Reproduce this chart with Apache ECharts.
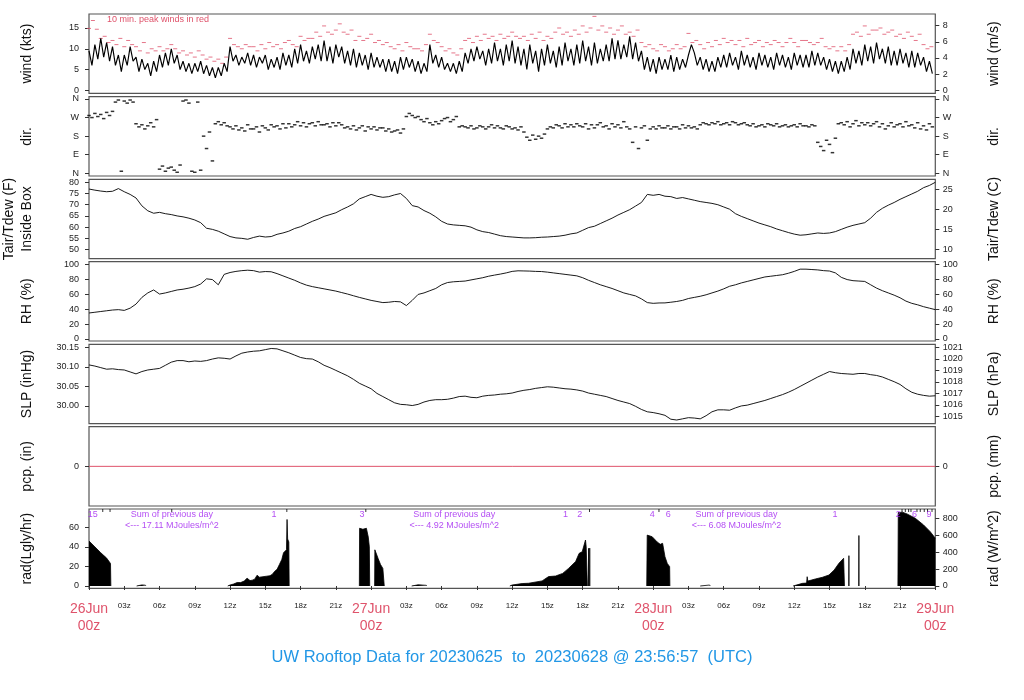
<!DOCTYPE html>
<html><head><meta charset="utf-8">
<script src="https://cdn.jsdelivr.net/npm/echarts@6/dist/echarts.min.js"></script>
<style>html,body{margin:0;padding:0;background:#fff}#c{width:1024px;height:700px}</style>
</head><body><div id="c"></div>
<script>
const FONT = '"Liberation Sans", Arial, Helvetica, sans-serif';

// ---- wind speed (kts), every 15 min from 26Jun 00z ----
const windStep = 0.25;
const windKts = [
 9.5,6.0,11.0,7.5, 12.5,8.0,11.5,7.0, 10.5,6.0,8.5,4.5, 8.5,6.0,10.5,7.0,
 8.0,4.5,7.5,5.0, 6.5,3.5,7.0,4.5, 8.5,5.5,9.0,6.0, 10.0,6.5,8.5,5.0,
 7.0,4.5,6.5,4.0, 6.5,4.5,7.0,4.0, 6.0,3.5,5.5,3.0, 5.5,3.5,6.5,4.5,
 10.5,7.0,8.5,6.0, 8.0,6.5,9.0,6.0, 8.5,5.5,8.0,6.5, 8.5,5.0,7.5,5.5,
 8.0,5.0,9.0,6.0, 8.5,5.5,10.0,6.5, 11.0,7.0,9.5,6.5, 10.5,7.5,11.0,7.0,
 12.0,7.0,10.5,6.5, 11.0,8.0,10.5,6.5, 9.5,6.0,10.0,5.5, 9.0,6.0,8.5,5.0,
 9.0,5.5,8.0,5.5, 7.5,4.5,7.5,4.5, 7.0,4.0,8.0,5.0, 8.0,5.5,7.5,4.5,
 7.0,4.0,6.5,4.5, 11.0,6.5,8.5,5.5, 8.0,5.0,6.5,4.5, 6.5,4.0,7.0,4.5,
 9.0,6.5,10.0,7.0, 10.5,7.5,9.5,6.0, 10.0,6.5,11.5,7.0, 10.0,6.0,11.0,7.0,
 12.0,6.5,10.5,6.0, 10.0,5.0,11.0,6.5, 9.5,4.5,10.0,6.0, 11.0,6.5,9.5,5.5,
 10.5,6.0,11.5,7.0, 10.0,6.0,11.0,6.5, 12.0,7.0,10.5,6.0, 11.5,6.5,10.0,7.0,
 11.0,7.0,12.5,7.5, 12.0,7.5,11.0,8.0, 13.0,7.5,11.5,7.0, 9.5,5.0,8.0,4.5,
 7.5,4.0,8.0,5.0, 7.5,5.0,8.5,4.5, 8.0,5.0,7.5,5.5, 8.5,11.0,9.0,6.0,
 8.0,5.0,7.5,4.5, 7.0,4.5,8.0,5.5, 8.5,5.5,9.0,6.0, 8.0,5.0,9.5,6.0,
 8.5,5.5,8.0,5.0, 9.0,6.0,8.5,5.5, 8.0,5.0,9.0,6.0, 8.5,5.5,8.0,5.0,
 9.0,6.0,8.5,5.5, 8.5,5.5,9.5,6.0, 9.0,6.0,8.0,5.0, 7.5,4.5,7.0,4.0,
 7.0,4.5,8.0,5.0, 10.0,6.5,9.5,6.0, 11.0,7.0,10.5,6.5, 11.5,7.5,10.0,6.5,
 10.5,6.0,9.5,6.0, 10.0,6.5,9.0,5.5, 9.5,5.5,9.0,6.0, 8.0,4.5,7.0,4.0
];

// ---- 10 min peak winds (kts), every 20 min ----
const peakStep = 1 / 3;
const peakKts = [
 14.9,16.8,14.7, 12.5,13.0,11.5, 12.0,11.0,12.5, 10.5,12.0,11.0, 10.5,9.5,11.5, 9.0,10.0,9.5,
 10.5,9.5,10.0, 11.0,10.0,9.0, 9.5,8.5,9.0, 8.0,9.5,8.5, 7.5,8.0,7.0, 7.5,6.5,8.0,
 12.5,11.0,10.5, 10.0,11.0,10.5, 10.5,9.5,11.0, 10.0,11.5,10.5, 11.0,10.0,11.5, 12.0,11.0,10.5,
 13.0,12.0,12.5, 12.5,14.0,13.0, 15.5,14.0,13.5, 14.5,16.0,14.0, 13.5,14.5,12.0, 13.0,12.0,12.5,
 13.5,11.5,12.0, 11.0,11.5,10.5, 10.0,11.0,9.5, 11.5,10.5,10.0, 10.0,9.5,11.0, 13.5,12.0,11.5,
 10.5,9.5,10.0, 9.0,8.5,10.0, 12.0,12.5,11.5, 13.0,12.0,13.5, 12.5,13.0,12.0, 13.5,12.5,13.0,
 14.0,13.0,12.5, 13.0,12.0,13.5, 12.5,14.0,12.0, 13.0,12.5,14.0, 15.0,13.5,14.0, 13.0,14.5,13.5,
 15.5,14.0,15.0, 17.8,14.5,15.5, 14.0,15.0,13.5, 14.5,15.5,13.5, 14.0,13.0,14.5, 11.5,10.5,11.0,
 10.0,9.5,11.0, 10.5,9.5,10.0, 11.0,10.0,10.5, 13.7,11.5,12.0, 11.0,10.0,11.5, 10.5,12.0,11.0,
 12.5,11.5,12.0, 11.0,12.0,10.5, 12.5,11.0,11.5, 12.0,10.5,11.5, 11.0,12.0,11.5, 10.5,11.5,12.5,
 11.5,10.5,12.0, 12.0,11.5,11.0, 11.5,12.5,10.5, 10.0,10.5,9.5, 10.5,9.5,11.0, 13.5,14.0,13.0,
 15.5,13.5,14.5, 14.5,15.0,13.5, 14.0,14.5,13.0, 13.5,12.5,14.0, 13.0,12.0,13.5, 11.0,10.0,10.5
];

// ---- wind direction (deg, 0 = N), every 15 min ----
const dirStep = 0.25;
const dirDeg = [
 280,270,290,275, 285,265,295,280, 300,345,355,10, 350,340,355,345,
 240,225,235,215, 230,245,225,260, 20,35,10,25, 30,15,5,40,
 350,355,340,10, 5,345,15,180, 120,200,60,240, 250,235,245,230,
 225,215,230,210, 220,205,235,215, 215,225,200,230, 220,210,235,225,
 230,215,240,220, 240,225,235,250, 230,245,225,240, 245,230,250,235,
 235,240,225,245, 230,245,235,220, 225,215,230,210, 220,230,205,225,
 215,225,210,220, 220,205,215,200, 205,210,195,215, 275,290,280,270,
 275,260,250,265, 245,235,250,240, 255,265,270,250, 260,275,225,230,
 225,220,230,215, 220,230,225,215, 225,235,220,230, 220,215,230,225,
 215,220,210,225, 200,175,160,185, 165,180,170,190, 215,225,220,235,
 230,220,240,225, 235,225,240,230, 225,240,215,235, 220,235,245,225,
 230,215,240,225, 235,220,250,225, 215,150,225,120, 220,230,160,215,
 225,215,230,220, 220,230,215,225, 225,215,235,220, 230,220,225,215,
 235,245,240,235, 245,240,250,235, 240,245,235,250, 245,235,240,245,
 235,230,240,225, 230,235,225,240, 235,230,240,225, 230,235,225,230,
 235,225,240,230, 230,225,235,230, 150,130,110,160, 140,100,170,240,
 245,235,250,225, 240,255,230,245, 235,245,230,240, 250,225,240,215,
 230,245,225,235, 240,225,250,230, 235,220,245,215, 230,210,240,225
];

// ---- temperature, RH, pressure, every 30 min ----
const thermoStep = 0.5;
const tairF = [
 77.0,76.5,76.1,75.8,76.0,77.2,75.8,74.6,73.0,69.5,67.3,66.2,66.6,66.0,65.6,65.0,64.6,64.0,63.2,62.0,59.5,59.0,58.2,57.0,
 55.8,55.2,55.0,54.6,55.4,56.0,55.6,55.8,56.8,57.4,58.2,59.4,60.2,61.4,62.6,63.6,64.8,65.6,66.4,67.8,69.0,70.4,72.6,73.6,
 74.6,73.8,73.3,73.6,74.4,75.0,72.8,69.6,69.0,67.4,66.2,64.6,62.6,61.4,61.0,60.8,60.6,60.0,58.8,58.0,57.6,56.9,56.2,55.8,
 55.6,55.4,55.2,55.2,55.3,55.5,55.6,55.8,56.0,56.4,57.0,57.4,58.6,59.8,60.4,61.6,62.8,64.0,65.4,66.6,67.8,69.4,71.0,74.6,
 74.2,74.6,73.8,73.6,72.8,73.2,72.6,72.0,71.4,71.0,70.6,70.0,69.0,68.0,66.0,64.8,63.8,62.8,61.8,61.0,60.2,59.2,58.4,57.6,
 56.9,56.4,56.6,57.0,57.4,57.2,57.4,58.0,59.0,60.0,60.8,61.4,62.0,64.0,66.6,68.4,69.8,71.0,72.4,73.6,74.8,76.0,77.6,78.6,
 80.0
];
const rhPct = [
 35.0,36.0,37.0,38.0,39.0,39.5,38.5,41.5,47.0,56.0,62.0,66.0,60.5,62.0,64.0,66.0,67.0,68.5,70.5,74.0,81.0,80.0,73.0,87.0,
 89.5,91.0,92.0,92.6,92.0,90.0,90.8,90.5,88.0,85.0,82.0,79.0,75.5,72.5,70.5,69.0,67.5,66.0,64.5,62.5,60.5,58.2,56.0,54.0,
 52.0,50.5,49.0,49.5,50.5,50.0,45.0,52.0,60.0,62.0,65.0,68.0,73.0,76.0,77.0,77.5,78.0,79.5,81.0,82.5,84.5,86.0,87.4,89.0,
 91.0,91.8,91.6,91.4,91.0,90.8,90.0,89.0,88.0,87.0,86.0,85.0,82.5,79.0,76.0,73.0,70.5,68.0,65.0,62.0,60.0,58.0,54.0,49.0,
 48.0,48.5,48.6,49.5,50.5,52.0,54.5,56.0,57.5,59.5,62.0,64.5,67.5,71.0,73.0,75.5,77.5,79.5,81.5,83.5,84.5,85.5,86.5,88.5,
 91.0,94.0,94.0,93.5,93.0,92.0,91.5,89.0,83.0,80.0,78.5,78.0,77.5,73.0,68.5,65.0,62.0,59.0,55.5,51.0,48.0,46.0,43.5,41.5,
 39.5
];
const slpInHg = [
 30.105,30.102,30.098,30.094,30.095,30.093,30.092,30.087,30.082,30.088,30.092,30.094,30.096,30.104,30.112,30.116,30.116,30.113,30.115,30.114,30.116,30.120,30.123,30.122,
 30.120,30.128,30.135,30.138,30.140,30.141,30.144,30.147,30.146,30.141,30.136,30.130,30.124,30.121,30.120,30.113,30.104,30.098,30.091,30.084,30.077,30.068,30.058,30.051,
 30.044,30.032,30.024,30.016,30.008,30.004,30.003,30.001,30.004,30.010,30.014,30.016,30.016,30.017,30.020,30.024,30.025,30.022,30.021,30.025,30.027,30.028,30.030,30.031,
 30.033,30.037,30.040,30.042,30.045,30.047,30.049,30.048,30.046,30.044,30.043,30.041,30.038,30.033,30.030,30.027,30.024,30.019,30.014,30.010,30.006,29.999,29.991,29.985,
 29.983,29.980,29.976,29.966,29.964,29.967,29.970,29.969,29.967,29.975,29.985,29.990,29.990,29.989,29.995,30.000,30.002,30.006,30.010,30.014,30.019,30.024,30.029,30.035,
 30.042,30.050,30.058,30.066,30.074,30.081,30.088,30.085,30.083,30.082,30.081,30.083,30.083,30.080,30.078,30.074,30.068,30.062,30.055,30.044,30.035,30.030,30.027,30.025,
 30.026
];

// ---- precipitation ----
const pcpHours = [0, 72];
const pcpIn = [0, 0];

// ---- solar radiation (Lgly/hr), [hour, value] per daylight segment ----
const radSegments = [
 [[0,46],[0.5,40],[1,34],[1.5,28.5],[1.83,23],[1.86,0]],
 [[4.05,0],[4.1,1.3],[4.5,1.1],[4.8,0.8],[4.85,0]],
 [[11.8,0],[12,1],[12.3,2],[12.6,3.5],[12.9,3.5],[13.2,5],[13.45,8],[13.55,9],[13.7,5.5],[13.9,6],[14.1,7],[14.3,11],[14.5,9],[14.8,9.5],[15.1,10],[15.4,10.5],[15.6,12],[15.8,15],[16,17],[16.2,22],[16.4,27],[16.55,34],[16.7,33],[16.8,37],[16.85,68],[16.9,48],[17,45],[17.03,0]],
 [[23.0,0],[23.02,59],[23.3,58],[23.6,59],[23.7,61],[23.76,50],[23.85,40],[23.88,0]],
 [[24.3,0],[24.32,37],[24.45,35],[24.6,28],[24.8,22],[25.0,18],[25.1,17],[25.12,0]],
 [[27.45,0],[27.5,1.8],[28.0,1.2],[28.7,0.7],[28.75,0]],
 [[35.8,0],[36,1],[36.85,2.5],[37.4,2.8],[38.55,5.2],[39.1,9.6],[39.7,10.2],[40.3,12.9],[40.8,18],[41.4,25],[41.7,33.4],[41.96,35],[42.24,47],[42.3,40],[42.38,38.7],[42.4,0]],
 [[42.49,0],[42.5,38.5],[42.51,0]],
 [[42.59,0],[42.6,38.7],[42.61,0]],
 [[47.45,0],[47.49,52],[47.91,50.4],[48.34,45],[48.6,42.6],[48.8,43.6],[49.0,30],[49.2,23],[49.4,19.8],[49.42,0]],
 [[52.0,0],[52.05,1.2],[52.8,1],[52.85,0]],
 [[59.9,0],[59.97,0.7],[60.7,2.7],[61.05,3],[61.1,9.5],[61.15,5],[61.25,6.1],[61.8,7.2],[62.4,8.9],[62.95,11.2],[63.4,16.4],[63.8,23.2],[64.2,28.3],[64.25,29.3],[64.27,0]],
 [[64.64,0],[64.65,31],[64.66,0]],
 [[65.49,0],[65.5,51.6],[65.51,0]],
 [[68.82,0],[68.85,75],[69.2,75.5],[69.59,73.7],[70.3,69.2],[71.0,62.4],[71.57,55.5],[72,48.8]]
];
const uvHours = [0.31, 15.74, 23.23, 40.54, 41.76, 47.91, 49.28, 63.46, 68.85, 70.24, 71.46];
const uvText = ['15', '1', '3', '1', '2', '4', '6', '1', '2', '6', '9'];
const radMarkHours = [1.17, 1.79, 7.04, 16.83, 23.55, 42.58, 48.49, 69.17, 69.45, 69.73, 69.93, 70.44, 70.72, 71.06, 71.34, 71.72];
const sumHours = [7.05, 31.08, 55.08];
const sumMJ = ['17.11', '4.92', '6.08'];

// ---- axis ticks / labels ----
const hourTicks = [0,3,6,9,12,15,18,21,24,27,30,33,36,39,42,45,48,51,54,57,60,63,66,69,72];
const dateNames = ['26Jun', '27Jun', '28Jun', '29Jun'];
const windTicks = [0, 5, 10, 15];
const windMsTicks = [0, 2, 4, 6, 8];
const dirTicks = [0, 90, 180, 270, 360];
const dirNames = ['N', 'E', 'S', 'W', 'N'];
const tairTicks = [50, 55, 60, 65, 70, 75, 80];
const tairCTicks = [10, 15, 20, 25];
const rhTicks = [0, 20, 40, 60, 80, 100];
const slpTicks = [30.00, 30.05, 30.10, 30.15];
const hpaTicks = [1015, 1016, 1017, 1018, 1019, 1020, 1021];
const pcpTicks = [0];
const radTicks = [0, 20, 40, 60];
const wm2Ticks = [0, 200, 400, 600, 800];

const titleText = 'UW Rooftop Data for 20230625  to  20230628 @ 23:56:57  (UTC)';
const peakNote = '10 min. peak winds in red';

// ---------------- layout ----------------
const RED = '#DF536B', PURPLE = '#A020F0', BLUE = '#2297E6';
const GL = 89, GW = 846.3, GH = 79.3;
const gridTops = [14, 96.7, 179.3, 261.7, 344.3, 426.7, 509];

const kt2ms = 0.514444, inhg2hpa = 33.8639, lgly2wm2 = 11.622;
const F2C = f => (f - 32) / 1.8;
const fmt2 = v => Number(v).toFixed(2);
const panels = [
  { l: { name: 'wind (kts)', min: -0.72, max: 18.37, ticks: windTicks },
    r: { name: 'wind (m/s)', min: -0.72 * kt2ms, max: 18.37 * kt2ms, ticks: windMsTicks } },
  { l: { name: 'dir.', min: -13.1, max: 371.1, ticks: dirTicks, fmt: v => dirNames[dirTicks.indexOf(Math.round(v))] },
    r: { name: 'dir.', min: -13.1, max: 371.1, ticks: dirTicks, fmt: v => dirNames[dirTicks.indexOf(Math.round(v))] } },
  { l: { name: 'Tair/Tdew (F)\nInside Box', min: 45.97, max: 81.34, ticks: tairTicks, lh: 18.5 },
    r: { name: 'Tair/Tdew (C)', min: F2C(45.97), max: F2C(81.34), ticks: tairCTicks } },
  { l: { name: 'RH (%)', min: -2.7, max: 104.05, ticks: rhTicks },
    r: { name: 'RH (%)', min: -2.7, max: 104.05, ticks: rhTicks } },
  { l: { name: 'SLP (inHg)', min: 29.9548, max: 30.1577, ticks: slpTicks, fmt: fmt2 },
    r: { name: 'SLP (hPa)', min: 29.9548 * inhg2hpa, max: 30.1577 * inhg2hpa, ticks: hpaTicks } },
  { l: { name: 'pcp. (in)', min: -1, max: 1, ticks: pcpTicks },
    r: { name: 'pcp. (mm)', min: -25.4, max: 25.4, ticks: pcpTicks } },
  { l: { name: 'rad(Lgly/hr)', min: -2.35, max: 78.7, ticks: radTicks },
    r: { name: 'rad (W/m^2)', min: -2.35 * lgly2wm2, max: 78.7 * lgly2wm2, ticks: wm2Ticks } }
];

const grids = gridTops.map(t => ({
  left: GL, top: t, width: GW, height: GH, show: true,
  borderColor: '#555', borderWidth: 1.2, backgroundColor: 'transparent',
  outerBoundsMode: 'none', containLabel: false
}));

function yAx(gi, side, d) {
  const lh = d.lh || 14;
  return {
    type: 'value', gridIndex: gi, position: side, min: d.min, max: d.max,
    name: d.name, nameLocation: 'middle', nameRotate: 90,
    nameGap: side === 'left' ? (89 - 27.5 - lh / 2) : (58.7 - lh / 2),
    nameTextStyle: { fontFamily: FONT, fontSize: 14, color: '#111', lineHeight: lh },
    axisLine: { show: false }, splitLine: { show: false },
    axisTick: { show: true, length: 4, inside: false, customValues: d.ticks, lineStyle: { color: '#333', width: 1 } },
    axisLabel: { show: true, customValues: d.ticks, margin: side === 'left' ? 10 : 7.5,
      fontFamily: FONT, fontSize: 9, color: '#222', formatter: d.fmt || (v => String(v)) }
  };
}
const yAxes = [];
panels.forEach((p, i) => { yAxes.push(yAx(i, 'left', p.l)); yAxes.push(yAx(i, 'right', p.r)); });

const xAxes = gridTops.map((t, i) => {
  const last = i === gridTops.length - 1;
  return {
    type: 'value', gridIndex: i, min: 0, max: 72,
    axisLine: { show: false }, splitLine: { show: false },
    axisTick: { show: last, length: 4, customValues: hourTicks, lineStyle: { color: '#333' } },
    axisLabel: {
      show: last, customValues: hourTicks, margin: 12.5,
      formatter: v => {
        const h = Math.round(v);
        if (h % 24 === 0) return '{d|' + dateNames[h / 24] + '}\n{d|00z}';
        return '{h|' + String(h % 24).padStart(2, '0') + 'z}';
      },
      rich: {
        d: { fontFamily: FONT, fontSize: 14, color: RED, lineHeight: 17 },
        h: { fontFamily: FONT, fontSize: 8, color: '#222', lineHeight: 10.4 }
      }
    }
  };
});

const radData = [];
radSegments.forEach((seg, k) => {
  if (k > 0) radData.push([seg[0][0], '-']);
  seg.forEach(p => radData.push(p));
});

const series = [
  { type: 'line', xAxisIndex: 0, yAxisIndex: 0, showSymbol: false, clip: true,
    data: windKts.map((v, i) => [i * windStep, v]), lineStyle: { color: '#000', width: 1.15 } },
  { type: 'scatter', xAxisIndex: 0, yAxisIndex: 0, symbol: 'rect', symbolSize: [4, 1], clip: true,
    data: peakKts.map((v, i) => [i * peakStep, v]), itemStyle: { color: RED, opacity: 0.8 } },
  { type: 'scatter', xAxisIndex: 1, yAxisIndex: 2, symbol: 'rect', symbolSize: [3.5, 1.5], clip: true,
    data: dirDeg.map((v, i) => [i * dirStep, v]), itemStyle: { color: '#000' } },
  { type: 'line', xAxisIndex: 2, yAxisIndex: 4, showSymbol: false, clip: true,
    data: tairF.map((v, i) => [i * thermoStep, v]), lineStyle: { color: '#000', width: 0.9 } },
  { type: 'line', xAxisIndex: 3, yAxisIndex: 6, showSymbol: false, clip: true,
    data: rhPct.map((v, i) => [i * thermoStep, v]), lineStyle: { color: '#000', width: 0.9 } },
  { type: 'line', xAxisIndex: 4, yAxisIndex: 8, showSymbol: false, clip: true,
    data: slpInHg.map((v, i) => [i * thermoStep, v]), lineStyle: { color: '#000', width: 0.9 } },
  { type: 'line', xAxisIndex: 5, yAxisIndex: 10, showSymbol: false, clip: true,
    data: pcpHours.map((h, i) => [h, pcpIn[i]]), lineStyle: { color: RED, width: 1 } },
  { type: 'line', xAxisIndex: 6, yAxisIndex: 12, showSymbol: false, clip: true, connectNulls: false,
    data: radData, lineStyle: { color: '#000', width: 0.8 }, areaStyle: { color: '#000', opacity: 1 } },
  { type: 'scatter', xAxisIndex: 6, yAxisIndex: 12, symbol: 'rect', symbolSize: [1, 3], clip: true,
    data: radMarkHours.map(h => [h, 77.2]), itemStyle: { color: '#000' } },
  { type: 'scatter', xAxisIndex: 6, yAxisIndex: 12, symbolSize: 1, clip: false, z: 5,
    data: uvHours.map((h, i) => ({ value: [h, 73.4], name: uvText[i] })),
    itemStyle: { color: 'transparent' },
    label: { show: true, position: 'inside', formatter: p => p.name, fontFamily: FONT, fontSize: 9, color: PURPLE } },
  { type: 'scatter', xAxisIndex: 6, yAxisIndex: 12, symbolSize: 1, clip: false, z: 5,
    data: sumHours.map((h, i) => ({ value: [h, 67.1], name: sumMJ[i] })),
    itemStyle: { color: 'transparent' },
    label: { show: true, position: 'inside', lineHeight: 10.7,
      formatter: p => 'Sum of previous day\n<--- ' + p.name + ' MJoules/m^2',
      fontFamily: FONT, fontSize: 9, color: PURPLE } }
];

const chart = echarts.init(document.getElementById('c'), null, { renderer: 'canvas' });
chart.setOption({
  animation: false,
  backgroundColor: '#fff',
  grid: grids, xAxis: xAxes, yAxis: yAxes, series: series,
  graphic: [
    { type: 'text', left: 'center', top: 649,
      style: { text: titleText, fontFamily: FONT, fontSize: 16.5, fill: BLUE } },
    { type: 'text', left: 107, top: 15,
      style: { text: peakNote, fontFamily: FONT, fontSize: 9, fill: RED } }
  ]
});
</script></body></html>
